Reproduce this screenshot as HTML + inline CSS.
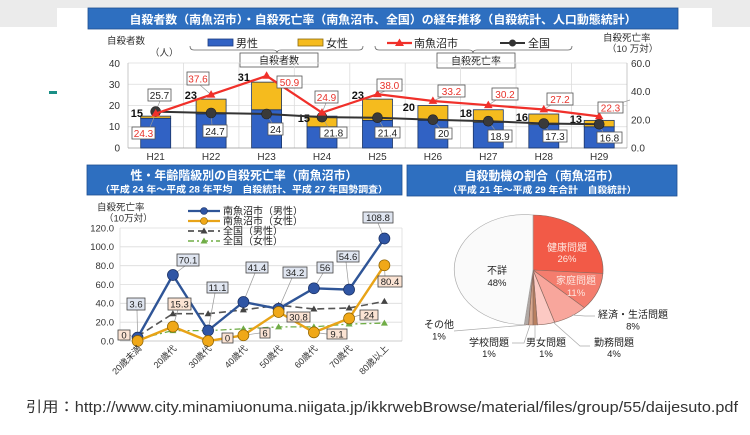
<!DOCTYPE html>
<html><head><meta charset="utf-8"><style>
html,body{margin:0;padding:0;background:#fff;}
svg{display:block;}
text{font-family:"Liberation Sans","Noto Sans CJK JP",sans-serif;}
</style></head><body>
<svg width="750" height="435" viewBox="0 0 750 435" xmlns="http://www.w3.org/2000/svg">
<rect x="0" y="0" width="750" height="435" fill="#fff"/>
<rect x="0" y="0" width="750" height="8" fill="#ebebeb"/>
<rect x="0" y="0" width="57" height="27" fill="#ebebeb"/>
<rect x="712" y="0" width="38" height="27" fill="#ebebeb"/>
<rect x="49" y="91" width="8" height="3" fill="#1a8f86"/>

<!-- TOP TITLE -->
<rect x="88" y="8" width="590" height="21" fill="#2e6fc0" stroke="#1f4f90" stroke-width="0.8"/>
<text x="383" y="23.5" font-size="11.5" font-weight="bold" fill="#fff" text-anchor="middle" textLength="507" lengthAdjust="spacingAndGlyphs">自殺者数（南魚沼市）・自殺死亡率（南魚沼市、全国）の経年推移（自殺統計、人口動態統計）</text>

<!-- top axis titles -->
<text x="107" y="44" font-size="9.5" fill="#333">自殺者数</text>
<text x="150" y="56" font-size="9.5" fill="#333">（人）</text>
<text x="603" y="41" font-size="9.5" fill="#333">自殺死亡率</text>
<text x="607" y="52" font-size="9.5" fill="#333">（10 万対）</text>

<!-- top legend -->
<rect x="208" y="39" width="25" height="7" fill="#3162c4" stroke="#1b3a80" stroke-width="0.8"/>
<text x="236" y="47" font-size="11" fill="#222">男性</text>
<rect x="298" y="39" width="25" height="7" fill="#f5bb1e" stroke="#8a6a10" stroke-width="0.8"/>
<text x="326" y="47" font-size="11" fill="#222">女性</text>
<line x1="387" y1="43" x2="412" y2="43" stroke="#f0302a" stroke-width="2.2"/>
<polygon points="399.5,38.5 404,46 395,46" fill="#f0302a"/>
<text x="414" y="47" font-size="11" fill="#222">南魚沼市</text>
<line x1="500" y1="43" x2="525" y2="43" stroke="#333" stroke-width="2"/>
<circle cx="512.5" cy="43" r="3.5" fill="#333"/>
<text x="528" y="47" font-size="11" fill="#222">全国</text>
<path d="M190,46 Q190,50 194,50 L273,50 Q277,50 277,53 Q277,50 281,50 L359,50 Q363,50 363,46" fill="none" stroke="#666" stroke-width="0.8"/>
<path d="M375,46 Q375,50 379,50 L469,50 Q473,50 473,53 Q473,50 477,50 L568,50 Q572,50 572,46" fill="none" stroke="#666" stroke-width="0.8"/>
<rect x="240" y="53" width="78" height="14" fill="#fff" stroke="#555" stroke-width="0.8"/>
<text x="279" y="64" font-size="10" fill="#222" text-anchor="middle">自殺者数</text>
<rect x="437" y="53" width="78" height="15" fill="#fff" stroke="#555" stroke-width="0.8"/>
<text x="476" y="64.5" font-size="10" fill="#222" text-anchor="middle">自殺死亡率</text>

<!-- top grid -->
<g stroke="#dcdcdc" stroke-width="0.8">
<line x1="128" y1="63" x2="627" y2="63"/>
<line x1="128" y1="84.25" x2="627" y2="84.25"/>
<line x1="128" y1="105.5" x2="627" y2="105.5"/>
<line x1="128" y1="126.75" x2="627" y2="126.75"/>
<line x1="183.4" y1="63" x2="183.4" y2="148"/>
<line x1="238.9" y1="63" x2="238.9" y2="148"/>
<line x1="294.3" y1="63" x2="294.3" y2="148"/>
<line x1="349.8" y1="63" x2="349.8" y2="148"/>
<line x1="405.2" y1="63" x2="405.2" y2="148"/>
<line x1="460.6" y1="63" x2="460.6" y2="148"/>
<line x1="516.1" y1="63" x2="516.1" y2="148"/>
<line x1="571.5" y1="63" x2="571.5" y2="148"/>
</g>
<line x1="128" y1="63" x2="128" y2="148" stroke="#bbb" stroke-width="0.8"/>
<line x1="627" y1="63" x2="627" y2="148" stroke="#bbb" stroke-width="0.8"/>
<line x1="128" y1="148" x2="627" y2="148" stroke="#999" stroke-width="0.8"/>

<g font-size="10" fill="#333" text-anchor="end">
<text x="120" y="67">40</text><text x="120" y="88">30</text><text x="120" y="109">20</text><text x="120" y="130">10</text><text x="120" y="151.5">0</text>
</g>
<g font-size="10" fill="#333">
<text x="631" y="67">60.0</text><text x="631" y="95">40.0</text><text x="631" y="123.5">20.0</text><text x="631" y="151.5">0.0</text>
</g>

<!-- bars -->
<g stroke="#1b3566" stroke-width="0.8">
<rect x="140.7" y="118.25" width="30" height="29.75" fill="#3162c4"/><rect x="140.7" y="116.13" width="30" height="2.12" fill="#f5bb1e"/>
<rect x="196.1" y="114" width="30" height="34" fill="#3162c4"/><rect x="196.1" y="99.13" width="30" height="14.87" fill="#f5bb1e"/>
<rect x="251.6" y="109.75" width="30" height="38.25" fill="#3162c4"/><rect x="251.6" y="82.13" width="30" height="27.62" fill="#f5bb1e"/>
<rect x="307" y="126.75" width="30" height="21.25" fill="#3162c4"/><rect x="307" y="116.13" width="30" height="10.62" fill="#f5bb1e"/>
<rect x="362.5" y="120.38" width="30" height="27.62" fill="#3162c4"/><rect x="362.5" y="99.13" width="30" height="21.25" fill="#f5bb1e"/>
<rect x="417.9" y="120.38" width="30" height="27.62" fill="#3162c4"/><rect x="417.9" y="105.5" width="30" height="14.88" fill="#f5bb1e"/>
<rect x="473.3" y="122.5" width="30" height="25.5" fill="#3162c4"/><rect x="473.3" y="109.75" width="30" height="12.75" fill="#f5bb1e"/>
<rect x="528.8" y="124.63" width="30" height="23.37" fill="#3162c4"/><rect x="528.8" y="114" width="30" height="10.63" fill="#f5bb1e"/>
<rect x="584.2" y="126.75" width="30" height="21.25" fill="#3162c4"/><rect x="584.2" y="120.38" width="30" height="6.37" fill="#f5bb1e"/>
</g>
<g font-size="11" font-weight="bold" fill="#111" text-anchor="end">
<text x="143" y="117">15</text><text x="197" y="99">23</text><text x="250" y="81">31</text><text x="310" y="122">15</text><text x="364" y="99">23</text><text x="415" y="111">20</text><text x="472" y="117">18</text><text x="528" y="121">16</text><text x="582" y="123">13</text>
</g>

<!-- leader lines top -->
<g stroke="#999" stroke-width="0.7" fill="none">
<line x1="150" y1="127" x2="155.7" y2="113.6"/><line x1="160" y1="101" x2="155.7" y2="111.6"/>
<line x1="200" y1="85" x2="211.1" y2="94.7"/><line x1="212" y1="125" x2="211.1" y2="113"/>
<line x1="277" y1="82" x2="266.6" y2="75.9"/><line x1="272" y1="123" x2="266.6" y2="114"/>
<line x1="326" y1="103" x2="322" y2="112.7"/><line x1="328" y1="127" x2="322" y2="117.1"/>
<line x1="385" y1="91" x2="377.5" y2="94.2"/><line x1="383" y1="127" x2="377.5" y2="117.7"/>
<line x1="442" y1="97" x2="432.9" y2="101"/><line x1="440" y1="128" x2="432.9" y2="119.7"/>
<line x1="496" y1="100" x2="488.3" y2="105.2"/><line x1="495" y1="130" x2="488.3" y2="121.2"/>
<line x1="551" y1="105" x2="543.8" y2="109.5"/><line x1="548" y1="130" x2="543.8" y2="123.5"/>
<line x1="605" y1="108" x2="630" y2="100"/><line x1="603" y1="132" x2="599.2" y2="124.2"/>
</g>

<!-- national black line -->
<polyline points="155.7,111.6 211.1,113 266.6,114 322,117.1 377.5,117.7 432.9,119.7 488.3,121.2 543.8,123.5 599.2,124.2" fill="none" stroke="#333" stroke-width="2"/>
<g fill="#3a3a3a" stroke="#222" stroke-width="0.6">
<circle cx="155.7" cy="111.6" r="5"/><circle cx="211.1" cy="113" r="5"/><circle cx="266.6" cy="114" r="5"/><circle cx="322" cy="117.1" r="5"/><circle cx="377.5" cy="117.7" r="5"/><circle cx="432.9" cy="119.7" r="5"/><circle cx="488.3" cy="121.2" r="5"/><circle cx="543.8" cy="123.5" r="5"/><circle cx="599.2" cy="124.2" r="5"/>
</g>
<!-- city red line -->
<polyline points="155.7,113.6 211.1,94.7 266.6,75.9 322,112.7 377.5,94.2 432.9,101 488.3,105.2 543.8,109.5 599.2,116.4" fill="none" stroke="#f0302a" stroke-width="2.2"/>
<g fill="#f0302a">
<polygon points="155.7,109 160,116.5 151.4,116.5"/><polygon points="211.1,90.1 215.4,97.6 206.8,97.6"/><polygon points="266.6,71.3 270.9,78.8 262.3,78.8"/><polygon points="322,108.1 326.3,115.6 317.7,115.6"/><polygon points="377.5,89.6 381.8,97.1 373.2,97.1"/><polygon points="432.9,96.4 437.2,103.9 428.6,103.9"/><polygon points="488.3,100.6 492.6,108.1 484,108.1"/><polygon points="543.8,104.9 548.1,112.4 539.5,112.4"/><polygon points="599.2,111.8 603.5,119.3 594.9,119.3"/>
</g>

<!-- top label boxes -->
<g fill="#fff" stroke="#555" stroke-width="0.8">
<rect x="132" y="127" width="23" height="12"/><rect x="187" y="72" width="22" height="13"/><rect x="277" y="76" width="25" height="12"/><rect x="315" y="91" width="23" height="12"/><rect x="377" y="79" width="25" height="12"/><rect x="438" y="85" width="27" height="12"/><rect x="492" y="88" width="26" height="12"/><rect x="547" y="93" width="26" height="12"/><rect x="598" y="102" width="25" height="11"/>
<rect x="148" y="89" width="23" height="12"/><rect x="203" y="125" width="24" height="12"/><rect x="268" y="123" width="15" height="12"/><rect x="320" y="127" width="27" height="11"/><rect x="375" y="127" width="25" height="11"/><rect x="435" y="128" width="17" height="11"/><rect x="488" y="130" width="24" height="12"/><rect x="543" y="130" width="24" height="12"/><rect x="597" y="132" width="25" height="11"/>
</g>
<g font-size="10" fill="#e8322a" text-anchor="middle">
<text x="143.5" y="137">24.3</text><text x="198" y="82.5">37.6</text><text x="289.5" y="86">50.9</text><text x="326.5" y="101">24.9</text><text x="389.5" y="89">38.0</text><text x="451.5" y="95">33.2</text><text x="505" y="98">30.2</text><text x="560" y="103">27.2</text><text x="610.5" y="111.5">22.3</text>
</g>
<g font-size="10" fill="#222" text-anchor="middle">
<text x="159.5" y="99">25.7</text><text x="215" y="135">24.7</text><text x="275.5" y="133">24</text><text x="333.5" y="136.5">21.8</text><text x="387.5" y="136.5">21.4</text><text x="443.5" y="137">20</text><text x="500" y="140">18.9</text><text x="555" y="140">17.3</text><text x="609.5" y="141.5">16.8</text>
</g>
<g font-size="10" fill="#333" text-anchor="middle">
<text x="155.7" y="160">H21</text><text x="211.1" y="160">H22</text><text x="266.6" y="160">H23</text><text x="322" y="160">H24</text><text x="377.5" y="160">H25</text><text x="432.9" y="160">H26</text><text x="488.3" y="160">H27</text><text x="543.8" y="160">H28</text><text x="599.2" y="160">H29</text>
</g>

<!-- LOWER LEFT TITLE -->
<rect x="87" y="165" width="315" height="30" fill="#2e6fc0" stroke="#1f4f90" stroke-width="0.8"/>
<text x="244" y="179.5" font-size="12" font-weight="bold" fill="#fff" text-anchor="middle" textLength="227" lengthAdjust="spacingAndGlyphs">性・年齢階級別の自殺死亡率（南魚沼市）</text>
<text x="244" y="192.5" font-size="9" font-weight="bold" fill="#fff" text-anchor="middle" textLength="288" lengthAdjust="spacingAndGlyphs">（平成 24 年～平成 28 年平均　自殺統計、平成 27 年国勢調査）</text>

<!-- LOWER RIGHT TITLE -->
<rect x="407" y="165" width="270" height="31" fill="#2e6fc0" stroke="#1f4f90" stroke-width="0.8"/>
<text x="542" y="180" font-size="12" font-weight="bold" fill="#fff" text-anchor="middle" textLength="155" lengthAdjust="spacingAndGlyphs">自殺動機の割合（南魚沼市）</text>
<text x="542" y="193" font-size="9" font-weight="bold" fill="#fff" text-anchor="middle" textLength="189" lengthAdjust="spacingAndGlyphs">（平成 21 年～平成 29 年合計　自殺統計）</text>

<!-- lower-left chart -->
<text x="97" y="210.5" font-size="9.5" fill="#333">自殺死亡率</text>
<text x="104" y="221.5" font-size="9.5" fill="#333">（10万対）</text>
<g stroke="#dcdcdc" stroke-width="0.8">
<line x1="120" y1="228" x2="402" y2="228"/><line x1="120" y1="246.8" x2="402" y2="246.8"/><line x1="120" y1="265.7" x2="402" y2="265.7"/><line x1="120" y1="284.5" x2="402" y2="284.5"/><line x1="120" y1="303.3" x2="402" y2="303.3"/><line x1="120" y1="322.2" x2="402" y2="322.2"/>
<line x1="402" y1="228" x2="402" y2="341"/><line x1="120" y1="228" x2="120" y2="341"/>
</g>
<line x1="120" y1="341" x2="402" y2="341" stroke="#bbb" stroke-width="0.8"/>
<g font-size="9.5" fill="#333" text-anchor="end">
<text x="114" y="231.5">120.0</text><text x="114" y="250">100.0</text><text x="114" y="269">80.0</text><text x="114" y="288">60.0</text><text x="114" y="306.5">40.0</text><text x="114" y="325.5">20.0</text><text x="114" y="344.5">0.0</text>
</g>

<!-- legend lower-left -->
<line x1="188" y1="211" x2="220" y2="211" stroke="#2f5597" stroke-width="2.2"/><circle cx="204" cy="211" r="3.5" fill="#2f55a4" stroke="#1a2f60" stroke-width="0.6"/>
<text x="223" y="214.5" font-size="10" fill="#222">南魚沼市（男性）</text>
<line x1="188" y1="221" x2="220" y2="221" stroke="#e8a317" stroke-width="2.2"/><circle cx="204" cy="221" r="3.5" fill="#f0a818" stroke="#8a6000" stroke-width="0.6"/>
<text x="223" y="224.5" font-size="10" fill="#222">南魚沼市（女性）</text>
<line x1="188" y1="231" x2="220" y2="231" stroke="#555" stroke-width="1.8" stroke-dasharray="6,4"/><polygon points="204,227.5 207.5,233.5 200.5,233.5" fill="#444"/>
<text x="223" y="234.5" font-size="10" fill="#222">全国（男性）</text>
<line x1="188" y1="241" x2="220" y2="241" stroke="#70ad47" stroke-width="1.5" stroke-dasharray="6,3,2,3"/><polygon points="204,237.5 207.5,243.5 200.5,243.5" fill="#70ad47"/>
<text x="223" y="244.5" font-size="10" fill="#222">全国（女性）</text>

<!-- national female green -->
<polyline points="137.6,339.1 172.9,330.6 208.1,330.6 243.4,328.8 278.6,326.9 313.9,326.9 349.1,324 384.4,323.1" fill="none" stroke="#70ad47" stroke-width="1.3" stroke-dasharray="6,3,2,3"/>
<g fill="#70ad47"><polygon points="172.9,327.1 176.4,333.1 169.4,333.1"/><polygon points="208.1,327.1 211.6,333.1 204.6,333.1"/><polygon points="243.4,325.3 246.9,331.3 239.9,331.3"/><polygon points="278.6,323.4 282.1,329.4 275.1,329.4"/><polygon points="313.9,323.4 317.4,329.4 310.4,329.4"/><polygon points="349.1,320.5 352.6,326.5 345.6,326.5"/><polygon points="384.4,319.6 387.9,325.6 380.9,325.6"/></g>
<!-- national male gray -->
<polyline points="137.6,336.3 172.9,313.7 208.1,313.7 243.4,309.9 278.6,305.2 313.9,309 349.1,308 384.4,301.4" fill="none" stroke="#555" stroke-width="1.6" stroke-dasharray="7,4"/>
<g fill="#444"><polygon points="172.9,310.2 176.4,316.2 169.4,316.2"/><polygon points="208.1,310.2 211.6,316.2 204.6,316.2"/><polygon points="243.4,306.4 246.9,312.4 239.9,312.4"/><polygon points="278.6,301.7 282.1,307.7 275.1,307.7"/><polygon points="313.9,305.5 317.4,311.5 310.4,311.5"/><polygon points="349.1,304.5 352.6,310.5 345.6,310.5"/><polygon points="384.4,297.9 387.9,303.9 380.9,303.9"/></g>

<!-- leader lines lower-left -->
<g stroke="#999" stroke-width="0.7">
<line x1="137" y1="310" x2="137.6" y2="337.6"/><line x1="185" y1="266" x2="172.9" y2="275"/><line x1="215" y1="293" x2="208.1" y2="330.5"/><line x1="255" y1="273" x2="243.4" y2="302"/><line x1="292" y1="278" x2="278.6" y2="308.8"/><line x1="323" y1="273" x2="313.9" y2="288.3"/><line x1="346" y1="262" x2="349.1" y2="289.6"/><line x1="378" y1="223" x2="384.4" y2="238.5"/>
<line x1="130" y1="335" x2="137.6" y2="341"/><line x1="178" y1="310" x2="172.9" y2="326.6"/><line x1="222" y1="338" x2="208.1" y2="341"/><line x1="260" y1="333" x2="243.4" y2="335.3"/><line x1="287" y1="317" x2="278.6" y2="312"/><line x1="327" y1="334" x2="313.9" y2="332.4"/><line x1="360" y1="315" x2="349.1" y2="318.4"/><line x1="385" y1="276" x2="384.4" y2="265.3"/>
</g>

<!-- city male blue -->
<polyline points="137.6,337.6 172.9,275 208.1,330.5 243.4,302 278.6,308.8 313.9,288.3 349.1,289.6 384.4,238.5" fill="none" stroke="#2f5597" stroke-width="2.4"/>
<g fill="#2f55a4" stroke="#1a2f60" stroke-width="0.7">
<circle cx="137.6" cy="337.6" r="5.5"/><circle cx="172.9" cy="275" r="5.5"/><circle cx="208.1" cy="330.5" r="5.5"/><circle cx="243.4" cy="302" r="5.5"/><circle cx="278.6" cy="308.8" r="5.5"/><circle cx="313.9" cy="288.3" r="5.5"/><circle cx="349.1" cy="289.6" r="5.5"/><circle cx="384.4" cy="238.5" r="5.5"/>
</g>
<!-- city female orange -->
<polyline points="137.6,341 172.9,326.6 208.1,341 243.4,335.3 278.6,312 313.9,332.4 349.1,318.4 384.4,265.3" fill="none" stroke="#e8a317" stroke-width="2.4"/>
<g fill="#f0a818" stroke="#8a6000" stroke-width="0.7">
<circle cx="137.6" cy="341" r="5.5"/><circle cx="172.9" cy="326.6" r="5.5"/><circle cx="208.1" cy="341" r="5.5"/><circle cx="243.4" cy="335.3" r="5.5"/><circle cx="278.6" cy="312" r="5.5"/><circle cx="313.9" cy="332.4" r="5.5"/><circle cx="349.1" cy="318.4" r="5.5"/><circle cx="384.4" cy="265.3" r="5.5"/>
</g>

<!-- lower-left boxes -->
<g fill="#dfe5f0" stroke="#444" stroke-width="0.8">
<rect x="127" y="298" width="18" height="12"/><rect x="177" y="254" width="22" height="12"/><rect x="207" y="282" width="21" height="11"/><rect x="246" y="262" width="22" height="11"/><rect x="283" y="267" width="24" height="11"/><rect x="317" y="262" width="16" height="11"/><rect x="337" y="251" width="22" height="11"/><rect x="363" y="212" width="30" height="11"/>
</g>
<g fill="#fbe3d3" stroke="#444" stroke-width="0.8">
<rect x="118" y="330" width="12" height="10"/><rect x="168" y="298" width="23" height="12"/><rect x="222" y="333" width="11" height="10"/><rect x="260" y="328" width="10" height="10"/><rect x="287" y="312" width="23" height="10"/><rect x="327" y="329" width="20" height="10"/><rect x="360" y="310" width="18" height="10"/><rect x="378" y="276" width="24" height="11"/>
</g>
<g font-size="9.5" fill="#222" text-anchor="middle">
<text x="136" y="307.5">3.6</text><text x="188" y="263.5">70.1</text><text x="217.5" y="291">11.1</text><text x="257" y="271">41.4</text><text x="295" y="276">34.2</text><text x="325" y="271">56</text><text x="348" y="260">54.6</text><text x="378" y="221">108.8</text>
<text x="124" y="338.5">0</text><text x="179.5" y="307.5">15.3</text><text x="227.5" y="341.5">0</text><text x="265" y="336.5">6</text><text x="298.5" y="320.5">30.8</text><text x="337" y="337.5">9.1</text><text x="369" y="318.5">24</text><text x="390" y="285">80.4</text>
</g>
<!-- rotated x labels -->
<g font-size="9" fill="#333" text-anchor="end">
<text transform="translate(142,349) rotate(-45)">20歳未満</text>
<text transform="translate(177,349) rotate(-45)">20歳代</text>
<text transform="translate(212,349) rotate(-45)">30歳代</text>
<text transform="translate(248,349) rotate(-45)">40歳代</text>
<text transform="translate(283,349) rotate(-45)">50歳代</text>
<text transform="translate(318,349) rotate(-45)">60歳代</text>
<text transform="translate(353,349) rotate(-45)">70歳代</text>
<text transform="translate(389,349) rotate(-45)">80歳以上</text>
</g>

<!-- PIE -->
<g transform="translate(533,270) scale(1,0.786)" stroke="#8a6a60" stroke-width="0.7">
<path d="M0,0 L0,-70 A70,70 0 0 1 69.86,4.39 Z" fill="#f25a47"/>
<path d="M0,0 L69.86,4.39 A70,70 0 0 1 51.31,47.98 Z" fill="#f47d6e"/>
<path d="M0,0 L51.31,47.98 A70,70 0 0 1 21.63,66.57 Z" fill="#f8a69c"/>
<path d="M0,0 L21.63,66.57 A70,70 0 0 1 4.39,69.86 Z" fill="#fcc9c3"/>
<path d="M0,0 L4.39,69.86 A70,70 0 0 1 0,70 Z" fill="#b9805f"/>
<path d="M0,0 L0,70 A70,70 0 0 1 -4.39,69.86 Z" fill="#d9a88e"/>
<path d="M0,0 L-4.39,69.86 A70,70 0 0 1 -8.77,69.45 Z" fill="#b0a8a4"/>
<path d="M0,0 L-8.77,69.45 A70,70 0 1 1 0,-70 Z" fill="#fafafa" stroke="#aaa"/>
</g>
<text x="567" y="251" font-size="10" fill="#fde6e0" text-anchor="middle">健康問題</text>
<text x="567" y="262" font-size="9.5" fill="#fde6e0" text-anchor="middle">26%</text>
<text x="576" y="284" font-size="10" fill="#fde6e0" text-anchor="middle">家庭問題</text>
<text x="576" y="296" font-size="9.5" fill="#fde6e0" text-anchor="middle">11%</text>
<text x="497" y="274" font-size="10" fill="#222" text-anchor="middle">不詳</text>
<text x="497" y="286" font-size="9.5" fill="#222" text-anchor="middle">48%</text>
<g stroke="#aaa" stroke-width="0.7" fill="none">
<polyline points="572,315 585,316 595,316"/>
<polyline points="553,322 580,346 590,346"/>
<line x1="535" y1="325" x2="535" y2="338"/>
<polyline points="530,325 524,343 512,343"/>
<line x1="454" y1="331" x2="526" y2="325"/>
</g>
<g font-size="10" fill="#222" text-anchor="middle">
<text x="633" y="318">経済・生活問題</text><text x="633" y="329.5" font-size="9.5">8%</text>
<text x="614" y="346">勤務問題</text><text x="614" y="357" font-size="9.5">4%</text>
<text x="546" y="346">男女問題</text><text x="546" y="357" font-size="9.5">1%</text>
<text x="489" y="346">学校問題</text><text x="489" y="357" font-size="9.5">1%</text>
<text x="439" y="328">その他</text><text x="439" y="339.5" font-size="9.5">1%</text>
</g>

<!-- caption -->
<text x="26" y="412" font-size="14.5" fill="#333" textLength="712" lengthAdjust="spacingAndGlyphs">引用：http://www.city.minamiuonuma.niigata.jp/ikkrwebBrowse/material/files/group/55/daijesuto.pdf</text>
</svg>
</body></html>
